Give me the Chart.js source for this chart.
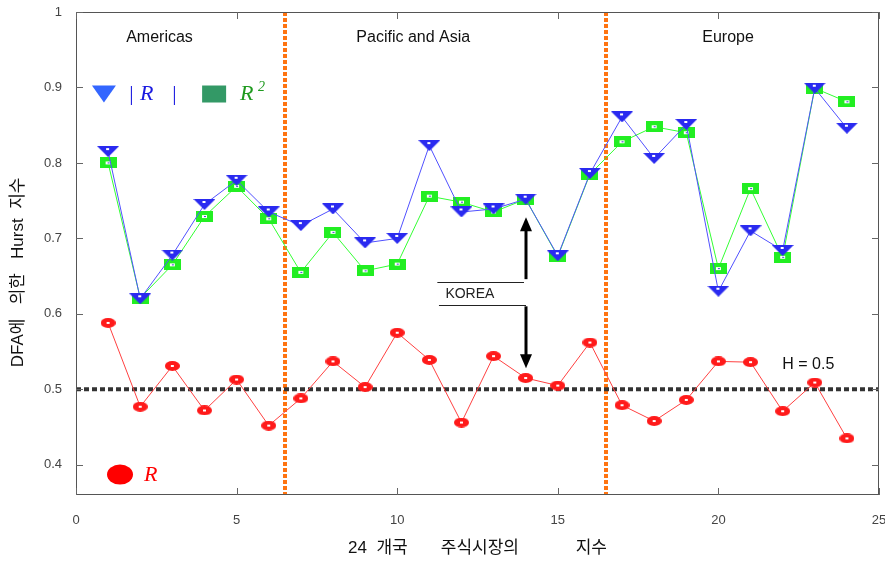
<!DOCTYPE html>
<html><head><meta charset="utf-8">
<script src="https://cdn.jsdelivr.net/npm/chart.js@4.4.1/dist/chart.umd.min.js"></script>
<style>html,body{margin:0;padding:0;background:#fff}#wrap{width:885px;height:562px}</style>
</head><body><div id="wrap"><canvas id="c" width="885" height="562"></canvas></div>
<script>
const markets = [1,2,3,4,5,6,7,8,9,10,11,12,13,14,15,16,17,18,19,20,21,22,23,24];
const absR = [0.815,0.620,0.678,0.745,0.777,0.735,0.717,0.739,0.694,0.700,0.823,0.735,0.739,0.752,0.677,0.786,0.861,0.806,0.851,0.630,0.710,0.684,0.899,0.846];
const rSquared = [0.800,0.621,0.665,0.729,0.769,0.726,0.655,0.708,0.657,0.666,0.756,0.748,0.735,0.752,0.676,0.785,0.828,0.848,0.840,0.660,0.766,0.675,0.899,0.881];
const rValues = [0.588,0.477,0.531,0.472,0.513,0.452,0.488,0.537,0.503,0.575,0.539,0.456,0.544,0.515,0.505,0.562,0.479,0.458,0.486,0.537,0.536,0.471,0.509,0.435];
const xTicks = [0,5,10,15,20,25];
const yTicks = [0.4,0.5,0.6,0.7,0.8,0.9,1.0];
const regionNames = ['Americas','Pacific and Asia','Europe'];
const regionLabelX = [2.6,10.5,20.3];
const regionBounds = [6.5,16.5];
const hLevel = 0.5;
const koreaX = 14;

const FONT = "'Liberation Sans', Arial, 'Noto Sans CJK KR', sans-serif";

function mk(w,h,draw){const c=document.createElement('canvas');c.width=w;c.height=h;draw(c.getContext('2d'),w,h);return c;}
const triImg = mk(22,11,(g,w,h)=>{g.fillStyle='#2a2af0';g.beginPath();g.moveTo(0,0);g.lineTo(w,0);g.lineTo(w/2,h);g.closePath();g.fill();g.fillStyle='#fff';g.fillRect(9,2,3,2);});
const sqImg = mk(17,11,(g,w,h)=>{g.fillStyle='#22ee22';g.fillRect(0,0,w,h);g.fillStyle='#fff';g.fillRect(6,4,5,3);g.fillStyle='#44c';g.fillRect(8,5,2,1);});
const ciImg = mk(15,10,(g,w,h)=>{g.fillStyle='#ff1a1a';g.beginPath();g.ellipse(w/2,h/2,w/2,h/2,0,0,Math.PI*2);g.fill();g.fillStyle='#fff';g.fillRect(6,4,3,2);});

const pts = arr => markets.map((m,i)=>({x:m,y:arr[i]}));

const overlay = {
  id:'overlay',
  beforeDatasetsDraw(chart){
    const {ctx,chartArea:a,scales:{x,y}} = chart;
    ctx.save();
    ctx.strokeStyle='#ff7410';ctx.lineWidth=4;ctx.setLineDash([4,2]);
    regionBounds.forEach(b=>{const px=Math.round(x.getPixelForValue(b));ctx.beginPath();ctx.moveTo(px,a.top);ctx.lineTo(px,a.bottom);ctx.stroke();});
    ctx.strokeStyle='#333';ctx.lineWidth=4;ctx.setLineDash([5,3]);
    const py=y.getPixelForValue(hLevel);ctx.beginPath();ctx.moveTo(a.left,py);ctx.lineTo(a.right,py);ctx.stroke();
    ctx.restore();
  },
  afterDraw(chart){
    const {ctx,chartArea:a,scales:{x,y}} = chart;
    ctx.save();
    ctx.strokeStyle='#555';ctx.lineWidth=1;ctx.strokeRect(a.left+0.5,a.top+0.5,a.right-a.left-1,a.bottom-a.top-1);
    ctx.strokeStyle='#666';
    yTicks.forEach(v=>{const py=Math.round(y.getPixelForValue(v))+0.5;ctx.beginPath();ctx.moveTo(a.left,py);ctx.lineTo(a.left+7,py);ctx.moveTo(a.right,py);ctx.lineTo(a.right-7,py);ctx.stroke();});
    xTicks.forEach(v=>{const px=Math.round(x.getPixelForValue(v))+0.5;ctx.beginPath();ctx.moveTo(px,a.bottom);ctx.lineTo(px,a.bottom-7);ctx.moveTo(px,a.top);ctx.lineTo(px,a.top+7);ctx.stroke();});
    ctx.fillStyle='#111';ctx.font='16px '+FONT;ctx.textAlign='center';ctx.textBaseline='middle';
    regionNames.forEach((n,i)=>ctx.fillText(n,x.getPixelForValue(regionLabelX[i]),y.getPixelForValue(0.966)));
    ctx.fillText('H = 0.5',x.getPixelForValue(22.8),y.getPixelForValue(0.533));
    const kx=Math.round(x.getPixelForValue(koreaX));
    ctx.strokeStyle='#222';ctx.lineWidth=1;
    const l1=Math.round(y.getPixelForValue(0.642))+0.5, l2=Math.round(y.getPixelForValue(0.612))+0.5;
    ctx.beginPath();ctx.moveTo(x.getPixelForValue(11.25),l1);ctx.lineTo(kx-2,l1);ctx.stroke();
    ctx.beginPath();ctx.moveTo(x.getPixelForValue(11.3),l2);ctx.lineTo(kx,l2);ctx.stroke();
    ctx.font='14px '+FONT;ctx.textAlign='left';ctx.fillStyle='#222';
    ctx.fillText('KOREA',x.getPixelForValue(11.5),y.getPixelForValue(0.626));
    ctx.strokeStyle='#000';ctx.fillStyle='#000';ctx.lineWidth=3;
    const t1=y.getPixelForValue(0.728), b1=y.getPixelForValue(0.646);
    ctx.beginPath();ctx.moveTo(kx,b1);ctx.lineTo(kx,t1+12);ctx.stroke();
    ctx.beginPath();ctx.moveTo(kx,t1);ctx.lineTo(kx-6,t1+14);ctx.lineTo(kx+6,t1+14);ctx.closePath();ctx.fill();
    const t2=y.getPixelForValue(0.610), b2=y.getPixelForValue(0.528);
    ctx.beginPath();ctx.moveTo(kx,t2);ctx.lineTo(kx,b2-12);ctx.stroke();
    ctx.beginPath();ctx.moveTo(kx,b2);ctx.lineTo(kx-6,b2-14);ctx.lineTo(kx+6,b2-14);ctx.closePath();ctx.fill();
    let lx=x.getPixelForValue(0.87), ly=y.getPixelForValue(0.892);
    ctx.fillStyle='#3366ff';ctx.beginPath();ctx.moveTo(lx-12,ly-8);ctx.lineTo(lx+12,ly-8);ctx.lineTo(lx,ly+9);ctx.closePath();ctx.fill();
    ctx.fillStyle='#1a1ae0';ctx.font="italic 22px 'Liberation Serif', 'DejaVu Serif', serif";ctx.textAlign='left';
    ctx.fillText('|',lx+24,ly+1);ctx.fillText('R',lx+36,ly+1);ctx.fillText('|',lx+67,ly+1);
    lx=x.getPixelForValue(4.3);
    ctx.fillStyle='#339966';ctx.fillRect(lx-12,ly-8,24,17);
    ctx.fillStyle='#1f9a1f';ctx.fillText('R',lx+26,ly+1);ctx.font="italic 14px 'Liberation Serif', serif";ctx.fillText('2',lx+44,ly-6);
    lx=x.getPixelForValue(1.37); ly=y.getPixelForValue(0.387);
    ctx.fillStyle='#ff0000';ctx.beginPath();ctx.ellipse(lx,ly,13,10,0,0,Math.PI*2);ctx.fill();
    ctx.font="italic 22px 'Liberation Serif', serif";ctx.fillText('R',lx+24,ly+1);
    ctx.restore();
  }
};

new Chart(document.getElementById('c'),{
  type:'scatter',
  data:{datasets:[
    {label:'|R|',data:pts(absR),showLine:true,borderColor:'#5050ff',borderWidth:1,pointStyle:triImg,pointRadius:8},
    {label:'R2',data:pts(rSquared),showLine:true,borderColor:'#33ff33',borderWidth:1,pointStyle:sqImg,pointRadius:8},
    {label:'R',data:pts(rValues),showLine:true,borderColor:'#ff4040',borderWidth:1,pointStyle:ciImg,pointRadius:7}
  ]},
  options:{
    responsive:false,animation:false,
    layout:{autoPadding:false,padding:{top:12,right:6,left:0,bottom:0}},
    plugins:{legend:{display:false},tooltip:{enabled:false}},
    scales:{
      x:{type:'linear',min:0,max:25,
        afterBuildTicks:s=>{s.ticks=xTicks.map(v=>({value:v}));},
        afterFit:s=>{s.height=67;s.paddingLeft=0;s.paddingRight=0;},
        grid:{display:false},border:{display:false},
        ticks:{color:'#444',font:{family:FONT,size:13},padding:10,maxRotation:0},
        title:{display:true,text:'24  개국       주식시장의            지수',color:'#111',font:{family:FONT,size:17},padding:{top:8,bottom:3}}},
      y:{type:'linear',min:0.36,max:1,
        afterBuildTicks:s=>{s.ticks=yTicks.map(v=>({value:v}));},
        afterFit:s=>{s.width=76;s.paddingTop=0;s.paddingBottom=0;},
        grid:{display:false},border:{display:false},
        ticks:{color:'#444',font:{family:FONT,size:13},padding:6,callback:v=>String(Number(v.toFixed(1)))},
        title:{display:true,text:'DFA에   의한   Hurst  지수        ',color:'#111',font:{family:FONT,size:17},padding:{top:8,bottom:0}}}
    }
  },
  plugins:[overlay]
});
</script></body></html>
